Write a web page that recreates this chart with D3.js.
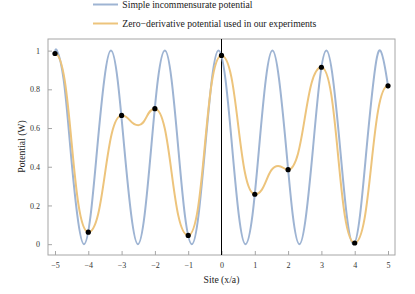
<!DOCTYPE html>
<html>
<head>
<meta charset="utf-8">
<script src="https://cdn.jsdelivr.net/npm/d3@7"></script>
<style>
  html, body { margin: 0; padding: 0; background: #fff; }
  svg { display: block; font-family: "Liberation Serif", "Times New Roman", serif; }
</style>
</head>
<body>
<div id="chart"></div>
<script>
// Simple incommensurate potential (peaks, troughs and points in between)
const blueX = [-5.00, -4.94, -4.74, -4.54, -4.33, -4.13, -3.93, -3.73, -3.52, -3.32,
               -3.12, -2.92, -2.71, -2.51, -2.31, -2.11, -1.91, -1.70, -1.50, -1.30,
               -1.10, -0.89, -0.69, -0.49, -0.29, -0.09, 0.12, 0.32, 0.52, 0.72,
               0.93, 1.13, 1.33, 1.53, 1.73, 1.94, 2.14, 2.34, 2.54, 2.75,
               2.95, 3.15, 3.35, 3.56, 3.76, 3.96, 4.16, 4.36, 4.57, 4.77,
               4.97, 5.00];
const blueY = [0.985, 1.00, 0.85, 0.50, 0.15, 0.00, 0.15, 0.50, 0.85, 1.00,
               0.85, 0.50, 0.15, 0.00, 0.15, 0.50, 0.85, 1.00, 0.85, 0.50,
               0.15, 0.00, 0.15, 0.50, 0.85, 1.00, 0.85, 0.50, 0.15, 0.00,
               0.15, 0.50, 0.85, 1.00, 0.85, 0.50, 0.15, 0.00, 0.15, 0.50,
               0.85, 1.00, 0.85, 0.50, 0.15, 0.00, 0.15, 0.50, 0.85, 1.00,
               0.85, 0.81];

// sampled sites (black dots)
const sites = [-5, -4, -3, -2, -1, 0, 1, 2, 3, 4, 5];
const siteValues = [0.985, 0.062, 0.665, 0.700, 0.045, 0.975, 0.258, 0.385, 0.914, 0.006, 0.818];

// zero-derivative potential: the sites plus the two local extrema between them
const orangeX = [-5, -4, -3, -2.5, -2, -1, 0, 1, 1.7, 2, 3, 4, 5];
const orangeY = [0.985, 0.062, 0.665, 0.615, 0.700, 0.045, 0.975, 0.258, 0.404, 0.385, 0.914, 0.006, 0.818];

const xTicks = [-5, -4, -3, -2, -1, 0, 1, 2, 3, 4, 5];
const yTicks = [0, 0.2, 0.4, 0.6, 0.8, 1];

const legendLabels = ["Simple incommensurate potential", "Zero\u2212derivative potential used in our experiments"];
const colors = ["#9eb4d3", "#edc47c"];

function createChart(containerId) {
    const width = 415;
    const height = 294;
    const plot = { left: 48, right: 395, top: 39, bottom: 255 };

    const svg = d3.select(`#${containerId}`)
        .append("svg")
        .attr("width", width)
        .attr("height", height);

    const x = d3.scaleLinear().domain([-5.21, 5.21]).range([plot.left, plot.right]);
    const y = d3.scaleLinear().domain([-0.056, 1.06]).range([plot.bottom, plot.top]);

    const fmt = d => (d < 0 ? "\u2212" + Math.abs(d) : String(d));

    // frame
    svg.append("rect")
        .attr("x", plot.left)
        .attr("y", plot.top)
        .attr("width", plot.right - plot.left)
        .attr("height", plot.bottom - plot.top)
        .attr("fill", "none")
        .attr("stroke", "#a6a6a6")
        .attr("stroke-width", 1);

    // bottom ticks (inside the frame)
    const xAxis = svg.append("g")
        .attr("transform", `translate(0,${plot.bottom})`)
        .call(d3.axisBottom(x).tickValues(xTicks).tickSizeInner(-4).tickSizeOuter(0).tickPadding(7).tickFormat(fmt));
    xAxis.select(".domain").remove();
    xAxis.selectAll("line").attr("stroke", "#a6a6a6");
    xAxis.selectAll("text").attr("font-size", "8px").attr("fill", "#333").attr("font-family", "Liberation Serif");

    // left ticks
    const yAxis = svg.append("g")
        .attr("transform", `translate(${plot.left},0)`)
        .call(d3.axisLeft(y).tickValues(yTicks).tickSizeInner(-4).tickSizeOuter(0).tickPadding(8).tickFormat(d => String(d)));
    yAxis.select(".domain").remove();
    yAxis.selectAll("line").attr("stroke", "#a6a6a6");
    yAxis.selectAll("text").attr("font-size", "8px").attr("fill", "#333").attr("font-family", "Liberation Serif");

    // vertical line at x = 0
    svg.append("line")
        .attr("x1", x(0)).attr("x2", x(0))
        .attr("y1", plot.top).attr("y2", plot.bottom)
        .attr("stroke", "#000")
        .attr("stroke-width", 1);

    const blueLine = d3.line()
        .x(d => x(d[0]))
        .y(d => y(d[1]))
        .curve(d3.curveNatural);

    svg.append("path")
        .datum(blueX.map((v, i) => [v, blueY[i]]))
        .attr("d", blueLine)
        .attr("fill", "none")
        .attr("stroke", colors[0])
        .attr("stroke-width", 2);

    // horizontal tangent at every node
    const orangeLine = d3.line()
        .x(d => x(d[0]))
        .y(d => y(d[1]))
        .curve(d3.curveBumpX);

    svg.append("path")
        .datum(orangeX.map((v, i) => [v, orangeY[i]]))
        .attr("d", orangeLine)
        .attr("fill", "none")
        .attr("stroke", colors[1])
        .attr("stroke-width", 2);

    svg.selectAll("circle.site")
        .data(sites)
        .enter()
        .append("circle")
        .attr("class", "site")
        .attr("cx", d => x(d))
        .attr("cy", (d, i) => y(siteValues[i]))
        .attr("r", 2.6)
        .attr("fill", "#000");

    // axis titles
    svg.append("text")
        .attr("x", x(0))
        .attr("y", 283)
        .attr("text-anchor", "middle")
        .attr("font-size", "9.7px")
        .attr("fill", "#222")
        .text("Site (x/a)");

    svg.append("text")
        .attr("transform", `translate(25,146.5) rotate(-90)`)
        .attr("text-anchor", "middle")
        .attr("font-size", "9.7px")
        .attr("fill", "#222")
        .text("Potential (W)");

    // legend
    const legend = svg.append("g");
    legendLabels.forEach((label, i) => {
        const ly = 4.5 + i * 19;
        legend.append("line")
            .attr("x1", 93).attr("x2", 118)
            .attr("y1", ly).attr("y2", ly)
            .attr("stroke", colors[i])
            .attr("stroke-width", 2);
        legend.append("text")
            .attr("x", 122.3)
            .attr("y", ly + 3.8)
            .attr("font-size", "9.7px")
            .attr("fill", "#222")
            .text(label);
    });
}

createChart("chart");
</script>
</body>
</html>
